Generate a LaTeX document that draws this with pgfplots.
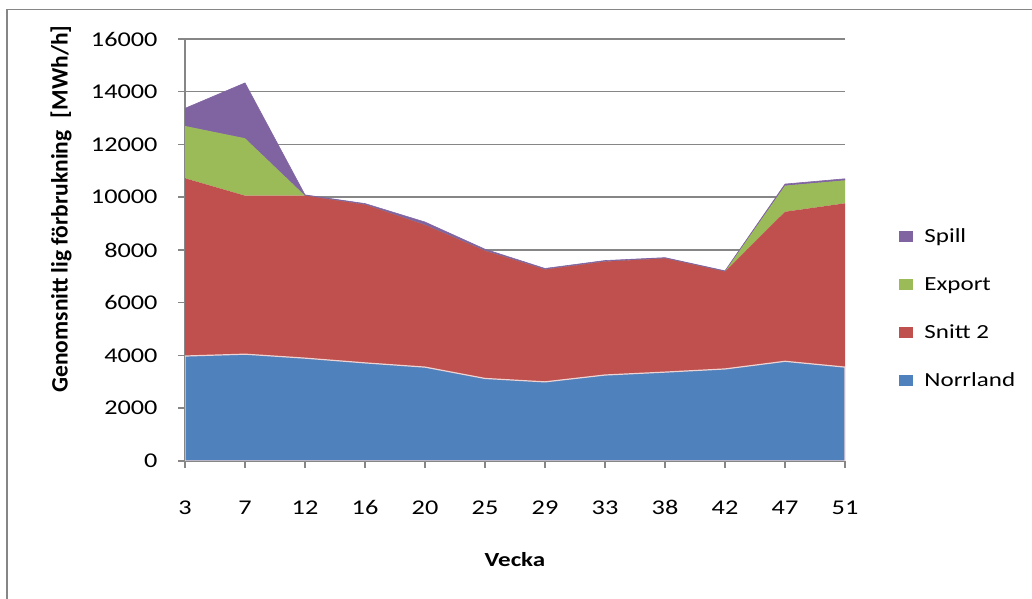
\documentclass[border=0pt]{standalone}
\usepackage{fontspec}
\setmainfont{Carlito}[FakeStretch=1.25]
\newfontfamily\ylabfont{Carlito}
\usepackage{pgfplots}
\pgfplotsset{compat=1.18}
\definecolor{cNor}{HTML}{4F81BD}
\definecolor{cSn}{HTML}{C0504D}
\definecolor{cEx}{HTML}{9BBB59}
\definecolor{cSp}{HTML}{8064A2}
\definecolor{cGrid}{HTML}{868686}
\begin{document}
\begin{tikzpicture}
\path[use as bounding box] (0bp,0bp) rectangle (1032bp,599bp);
\draw[cGrid, line width=1.5bp] (7bp,-2bp) -- (7bp,589.5bp) -- (1034bp,589.5bp);
\begin{axis}[
  at={(185bp,138bp)}, anchor=south west,
  scale only axis, width=660bp, height=422bp,
  xmin=0, xmax=11, ymin=0, ymax=16000,
  xtick={0,...,11},
  xticklabels={3,7,12,16,20,25,29,33,38,42,47,51},
  ytick={0,2000,...,16000},
  scaled y ticks=false,
  /pgf/number format/1000 sep={},
  /pgf/number format/assume math mode=true,
  ymajorgrids, grid style={cGrid, line width=1.5bp},
  axis x line*=bottom, axis y line*=left,
  axis line style={cGrid, line width=1.5bp},
  tick style={cGrid, line width=1.5bp},
  tick align=outside, major tick length=7bp,
  ticklabel style={font=\fontsize{21bp}{25bp}\selectfont},
  xticklabel style={text height=13.3bp, text depth=0bp, yshift=-30bp},
  yticklabel style={xshift=-17bp},
  xlabel={Vecka},
  ylabel={Genomsnitt\hspace{0.2em}lig förbrukning\hspace{0.3em} [MWh/h]},
  every axis x label/.style={at={(axis description cs:0.5,0)}, yshift=-99bp, anchor=center, font=\fontsize{20bp}{24bp}\selectfont\bfseries},
  every axis y label/.style={at={(axis description cs:0,0.597)}, xshift=-124bp, anchor=center, rotate=90, font=\ylabfont\fontsize{23.5bp}{28bp}\selectfont\bfseries},
  stack plots=y,
  reverse legend,
  legend cell align=left,
  legend image code/.code={\path[#1, draw=none] (0bp,-5.5bp) rectangle (14bp,5.5bp); \path (20bp,0bp);},
  legend style={at={(axis description cs:1.082,0.361)}, anchor=west, draw=none, fill=none,
    font=\fontsize{20bp}{24bp}\selectfont, row sep=33bp, inner sep=0pt,
    nodes={inner xsep=4.5bp, inner ysep=0pt}},
]
\addplot[fill=cNor, draw=white!75!cSn, line width=1.2bp] coordinates {
(0,3980) (1,4050) (2,3900) (3,3720) (4,3560) (5,3130) (6,3000) (7,3260) (8,3370) (9,3490) (10,3780) (11,3560)} \closedcycle;
\addlegendentry{Norrland}
\addplot[fill=cSn, draw=none] coordinates {
(0,6740) (1,6010) (2,6160) (3,6000) (4,5390) (5,4840) (6,4260) (7,4300) (8,4310) (9,3690) (10,5670) (11,6210)} \closedcycle;
\addlegendentry{Snitt 2}
\addplot[fill=cEx, draw=none] coordinates {
(0,1980) (1,2175) (2,0) (3,0) (4,0) (5,0) (6,0) (7,0) (8,0) (9,0) (10,990) (11,870)} \closedcycle;
\addlegendentry{Export}
\addplot[fill=cSp, draw=cSp, line width=0.6bp] coordinates {
(0,670) (1,2100) (2,30) (3,40) (4,110) (5,60) (6,40) (7,40) (8,30) (9,30) (10,60) (11,60)} \closedcycle;
\addlegendentry{Spill}
\draw[cGrid, line width=1.5bp] (rel axis cs:0,1) -- (rel axis cs:0,0) -- (rel axis cs:1,0);
\end{axis}
\end{tikzpicture}
\end{document}
